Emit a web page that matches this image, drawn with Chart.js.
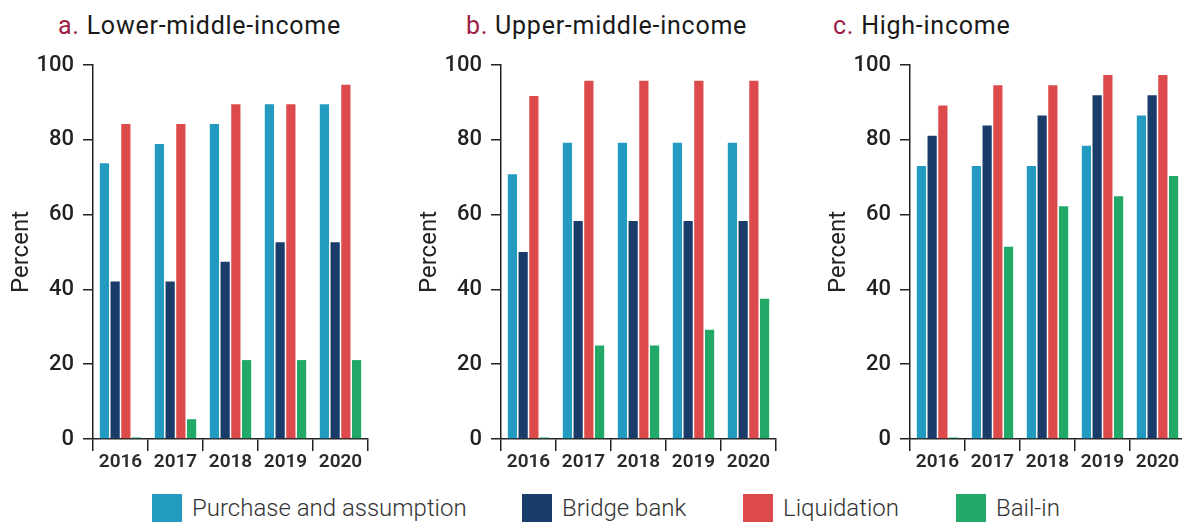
<!DOCTYPE html>
<html>
<head>
<meta charset="utf-8">
<script src="https://cdn.jsdelivr.net/npm/chart.js@4.4.1/dist/chart.umd.min.js"></script>
<style>
  html, body { margin: 0; padding: 0; background: #fff; width: 1182px; height: 522px; overflow: hidden; position: relative; font-family: Roboto, sans-serif; }
  .panel { position: absolute; top: 0; width: 408px; height: 480px; }
  .title { position: absolute; top: 11px; font-size: 25px; letter-spacing: 0.75px; line-height: 30px; color: #1a1a1a; white-space: nowrap; font-weight: 400; }
  .title .lab { color: #9b1d48; }
  .leg { position: absolute; top: 494px; height: 28px; line-height: 28px; font-size: 24px; font-weight: 300; color: #333; white-space: nowrap; }
  .sw { position: absolute; top: 494px; width: 30px; height: 28px; }
</style>
</head>
<body>
<div class="title" style="left:58px"><span class="lab">a.</span> Lower-middle-income</div>
<div class="title" style="left:466px"><span class="lab">b.</span> Upper-middle-income</div>
<div class="title" style="left:833px"><span class="lab">c.</span> High-income</div>

<div class="panel" style="left:0px"><canvas id="cA" width="408" height="480"></canvas></div>
<div class="panel" style="left:408px"><canvas id="cB" width="408" height="480"></canvas></div>
<div class="panel" style="left:817px"><canvas id="cC" width="408" height="480"></canvas></div>

<div id="legend"></div>

<script>
// ---- Data ----
const years = ['2016', '2017', '2018', '2019', '2020'];
const seriesNames = ['Purchase and assumption', 'Bridge bank', 'Liquidation', 'Bail-in'];
const seriesColors = ['#239bc1', '#1a3c6b', '#dd4a4b', '#22a968'];

// a. Lower-middle-income
const lowerMidPA = [73.7, 78.9, 84.2, 89.5, 89.5];
const lowerMidBridge = [42.1, 42.1, 47.4, 52.6, 52.6];
const lowerMidLiq = [84.2, 84.2, 89.5, 89.5, 94.7];
const lowerMidBail = [0.4, 5.3, 21.1, 21.1, 21.1];

// b. Upper-middle-income
const upperMidPA = [70.8, 79.2, 79.2, 79.2, 79.2];
const upperMidBridge = [50.0, 58.3, 58.3, 58.3, 58.3];
const upperMidLiq = [91.7, 95.8, 95.8, 95.8, 95.8];
const upperMidBail = [0.4, 25.0, 25.0, 29.2, 37.5];

// c. High-income
const highPA = [73.0, 73.0, 73.0, 78.4, 86.5];
const highBridge = [81.1, 83.8, 86.5, 91.9, 91.9];
const highLiq = [89.2, 94.6, 94.6, 97.3, 97.3];
const highBail = [0.4, 51.4, 62.2, 64.9, 70.3];

const yTicks = [0, 20, 40, 60, 80, 100];

// ---- Legend (HTML) ----
const legendX = [152, 522, 743, 956];
const legendEl = document.getElementById('legend');
seriesNames.forEach((n, i) => {
  const sw = document.createElement('div');
  sw.className = 'sw';
  sw.style.left = legendX[i] + 'px';
  sw.style.background = seriesColors[i];
  legendEl.appendChild(sw);
  const t = document.createElement('div');
  t.className = 'leg';
  t.style.left = (legendX[i] + 40) + 'px';
  t.textContent = n;
  legendEl.appendChild(t);
});

function makeChart(id, values) {
  const ctx = document.getElementById(id);
  return new Chart(ctx, {
    type: 'bar',
    data: {
      labels: years,
      datasets: values.map((v, i) => ({
        label: seriesNames[i],
        data: v,
        backgroundColor: seriesColors[i],
        borderWidth: 0,
        categoryPercentage: 0.78,
        barPercentage: 0.86
      }))
    },
    options: {
      responsive: false,
      animation: false,
      devicePixelRatio: 1,
      layout: { padding: { top: 65, right: 40, left: 0, bottom: 0 } },
      plugins: { legend: { display: false }, tooltip: { enabled: false } },
      scales: {
        x: {
          grid: { display: true, drawOnChartArea: false, drawTicks: true, tickLength: 12, color: '#222', lineWidth: 1.5, offset: true },
          border: { display: true, color: '#222', width: 1.5 },
          ticks: { color: '#2a2a2a', font: { family: 'Roboto', size: 19, weight: '600' }, padding: 0, maxRotation: 0 },
          afterFit: (s) => { s.height = 41; }
        },
        y: {
          min: 0, max: 100,
          afterBuildTicks: (s) => { s.ticks = yTicks.map(v => ({ value: v })); },
          grid: { display: true, drawOnChartArea: false, drawTicks: true, tickLength: 10, color: '#222', lineWidth: 1.5 },
          border: { display: true, color: '#222', width: 1.5 },
          ticks: { color: '#222', font: { family: 'Roboto', size: 22, weight: '500' }, padding: 9 },
          title: { display: true, text: 'Percent', color: '#222', font: { family: 'Roboto', size: 24, weight: '400' }, padding: { top: 8, bottom: 0 } },
          afterFit: (s) => { s.width = 93; }
        }
      }
    }
  });
}

makeChart('cA', [lowerMidPA, lowerMidBridge, lowerMidLiq, lowerMidBail]);
makeChart('cB', [upperMidPA, upperMidBridge, upperMidLiq, upperMidBail]);
makeChart('cC', [highPA, highBridge, highLiq, highBail]);
</script>
</body>
</html>
